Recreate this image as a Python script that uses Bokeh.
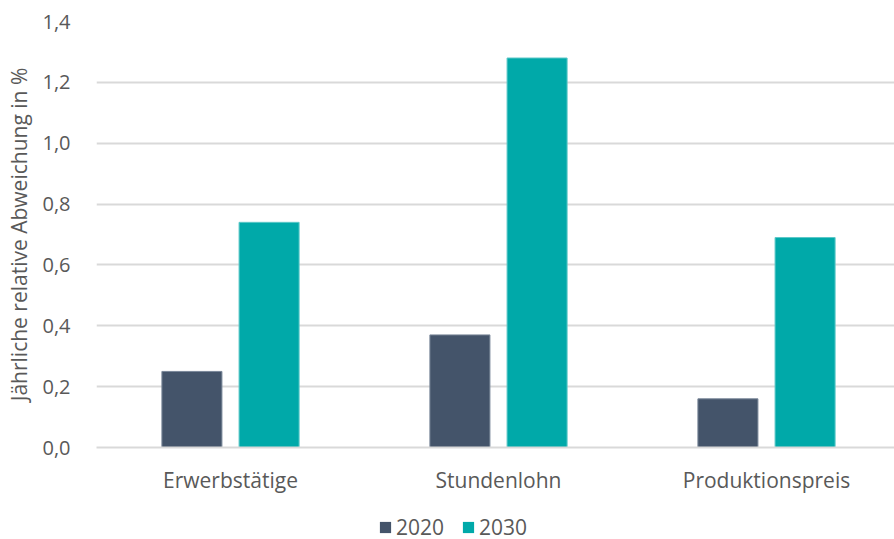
from bokeh.plotting import figure
from bokeh.layouts import column
from bokeh.models import ColumnDataSource, Range1d, FixedTicker, Legend, LegendItem
from bokeh.embed import file_html
from bokeh.resources import INLINE

# Jährliche relative Abweichung in % je Kenngröße
categories = ["Erwerbstätige", "Stundenlohn", "Produktionspreis"]
values_2020 = [0.25, 0.37, 0.16]
values_2030 = [0.74, 1.28, 0.69]
y_ticks = [0.0, 0.2, 0.4, 0.6, 0.8, 1.0, 1.2, 1.4]
series = ["2020", "2030"]

FONT = "Open Sans"
TEXT = "#595959"
C2020 = "#44546A"
C2030 = "#00A9A9"
COLORS = [C2020, C2030]

centers = [i + 0.5 for i in range(len(categories))]
off = 0.144
bw = 0.224

src20 = ColumnDataSource(dict(x=[c - off for c in centers], top=values_2020))
src30 = ColumnDataSource(dict(x=[c + off for c in centers], top=values_2030))

W = 894
H_MAIN = 505
H_LEG = 34

p = figure(width=W, height=H_MAIN, output_backend="svg", toolbar_location=None,
           x_range=Range1d(0, 798 / 268), y_range=Range1d(0, 1.4))
p.min_border_left = 96
p.min_border_right = 0
p.min_border_top = 21
p.min_border_bottom = H_MAIN - 447
p.outline_line_color = None
p.background_fill_color = "white"
p.border_fill_color = "white"

p.vbar(x="x", top="top", width=bw, source=src20, fill_color=C2020,
       line_color="#7a8799", line_width=1)
p.vbar(x="x", top="top", width=bw, source=src30, fill_color=C2030,
       line_color="#5cc8c8", line_width=1)

# y axis
p.yaxis.ticker = FixedTicker(ticks=y_ticks)
p.yaxis.major_label_overrides = {t: f"{t:.1f}".replace(".", ",") for t in y_ticks}
p.yaxis.axis_line_color = None
p.yaxis.major_tick_line_color = None
p.yaxis.minor_tick_line_color = None
p.yaxis.major_label_text_font = FONT
p.yaxis.major_label_text_font_size = "20px"
p.yaxis.major_label_text_color = TEXT
p.yaxis.major_label_standoff = 20
p.yaxis.axis_label = "Jährliche relative Abweichung in %"
p.yaxis.axis_label_text_font = FONT
p.yaxis.axis_label_text_font_size = "21px"
p.yaxis.axis_label_text_font_style = "normal"
p.yaxis.axis_label_text_color = TEXT
p.yaxis.axis_label_standoff = 6

# x axis
p.xaxis.ticker = FixedTicker(ticks=centers)
p.xaxis.major_label_overrides = {c: n for c, n in zip(centers, categories)}
p.xaxis.axis_line_color = "#d9d9d9"
p.xaxis.axis_line_width = 2
p.xaxis.major_tick_line_color = None
p.xaxis.minor_tick_line_color = None
p.xaxis.major_label_text_font = FONT
p.xaxis.major_label_text_font_size = "21px"
p.xaxis.major_label_text_color = TEXT
p.xaxis.major_label_standoff = 12

p.xgrid.grid_line_color = None
p.ygrid.ticker = FixedTicker(ticks=y_ticks)
p.ygrid.grid_line_color = "#d9d9d9"
p.ygrid.grid_line_width = 2

# legend strip under the chart; its zero-height bars only supply the swatches
lg = figure(width=W, height=H_LEG, output_backend="svg", toolbar_location=None,
            x_range=Range1d(0, 1), y_range=Range1d(0, 1),
            min_border=0, outline_line_color=None)
lg.axis.visible = False
lg.grid.visible = False
items = []
for name, col in zip(series, COLORS):
    r = lg.vbar(x=[0.5], top=[0], bottom=[0], width=0.0, fill_color=col,
                line_color=None)
    items.append(LegendItem(label=name, renderers=[r]))
legend = Legend(items=items, orientation="horizontal", location=(282, -2),
                label_text_font=FONT, label_text_font_size="21px",
                label_text_color=TEXT, glyph_width=14, glyph_height=14,
                spacing=17, label_standoff=4, padding=0, margin=0,
                border_line_color=None, background_fill_alpha=0)
lg.add_layout(legend, "center")

open("out.html", "w").write(file_html(column(p, lg, spacing=0), INLINE))
